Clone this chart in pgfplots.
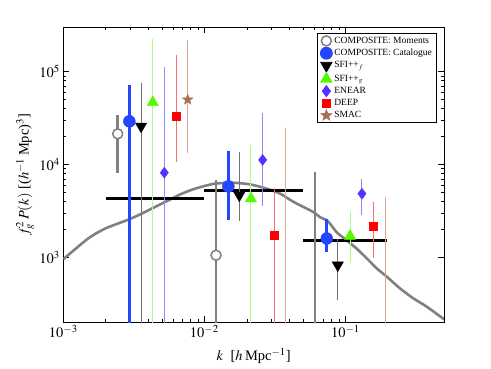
\documentclass[border=0pt]{standalone}
\usepackage{mathptmx}
\usepackage{fontspec}
\setmainfont{Liberation Serif}
\usepackage{pgfplots}
\pgfplotsset{compat=1.18}
\usepackage{pgfplotstable}

\definecolor{cgray}{RGB}{128,128,128}
\definecolor{cblue}{RGB}{35,70,255}
\definecolor{cgreen}{RGB}{85,250,0}
\definecolor{cgreenbar}{RGB}{170,255,130}
\definecolor{cviolet}{RGB}{85,51,255}
\definecolor{cvioletbar}{RGB}{150,135,255}
\definecolor{cred}{RGB}{255,0,0}
\definecolor{credbar}{RGB}{255,110,110}
\definecolor{cbrown}{RGB}{170,110,80}
\definecolor{cbrownbar}{RGB}{215,170,150}

% filled five-pointed star
\pgfdeclareplotmark{fstar}{%
  \pgfpathmoveto{\pgfpointpolar{90}{\pgfplotmarksize}}%
  \pgfpathlineto{\pgfpointpolar{126}{0.42\pgfplotmarksize}}%
  \pgfpathlineto{\pgfpointpolar{162}{\pgfplotmarksize}}%
  \pgfpathlineto{\pgfpointpolar{198}{0.42\pgfplotmarksize}}%
  \pgfpathlineto{\pgfpointpolar{234}{\pgfplotmarksize}}%
  \pgfpathlineto{\pgfpointpolar{270}{0.42\pgfplotmarksize}}%
  \pgfpathlineto{\pgfpointpolar{306}{\pgfplotmarksize}}%
  \pgfpathlineto{\pgfpointpolar{342}{0.42\pgfplotmarksize}}%
  \pgfpathlineto{\pgfpointpolar{18}{\pgfplotmarksize}}%
  \pgfpathlineto{\pgfpointpolar{54}{0.42\pgfplotmarksize}}%
  \pgfpathclose\pgfusepathqfillstroke}

% theory curve
\pgfplotstableread{
x y
1e-3 950
1.5e-3 1590
1.98e-3 2036
2.89e-3 2540
3.60e-3 2950
4.47e-3 3480
5.56e-3 4100
6.92e-3 4840
8.59e-3 5480
1.17e-2 6190
1.61e-2 6350
2.11e-2 6100
2.77e-2 5480
3.45e-2 4840
4.06e-2 4150
4.52e-2 3780
5.92e-2 3070
6.61e-2 2700
7.50e-2 2450
8.69e-2 1850
0.0968 1620
0.120 1240
0.142 968
0.167 756
0.197 614
0.244 460
0.303 360
0.378 292
0.509 210
}\tabtheory

% x, value, upper error, lower error
\pgfplotstableread{
x y ep em
2.43e-3 21400 11400 12800
1.21e-2 1050 5400 1049
6.09e-2 50 7890 49
}\tabmom
\pgfplotstableread{
x y ep em
2.94e-3 29200 38800 29199
1.48e-2 5800 7600 3150
7.38e-2 1590 870 400
}\tabcat
\pgfplotstableread{
x y ep em
3.56e-3 25800 46200 25799
1.77e-2 4650 8350 2040
8.83e-2 820 680 460
}\tabsfif
\pgfplotstableread{
x y ep em
4.31e-3 46800 168200 46799
2.14e-2 4280 11020 4279
0.108 1690 1260 784
}\tabsfig
\pgfplotstableread{
x y ep em
5.20e-3 8150 98850 8149
2.59e-2 11200 23000 7420
0.131 4840 1760 1810
}\tabenear
\pgfplotstableread{
x y ep em
6.30e-3 33000 112000 21700
3.13e-2 1720 3530 1719
0.158 2170 1610 1140
}\tabdeep
\pgfplotstableread{
x y ep em
7.62e-3 50000 157000 36200
3.79e-2 50 23750 49
0.191 50 4230 49
}\tabsmac

\pgfplotsset{
  ebars/.style 2 args={only marks,
    error bars/y dir=both, error bars/y explicit,
    error bars/error bar style={color=#2, line width=#1},
    error bars/error mark options={color=#2, line width=#1, mark size=2pt}},
}

\begin{document}
\begin{tikzpicture}
\path[use as bounding box] (-63.3pt,-46pt) rectangle (427.7pt,322pt);
\begin{axis}[
  at={(0pt,0pt)}, anchor=south west,
  scale only axis, width=380.7pt, height=294.5pt,
  xmode=log, ymode=log,
  xmin=1e-3, xmax=0.5, ymin=200, ymax=3e5,
  xtick={1e-3,1e-2,1e-1}, ytick={1e3,1e4,1e5},
  major tick length=6pt, minor tick length=3pt,
  tick style={black, line width=0.6pt},
  axis line style={line width=0.9pt},
  tick label style={font=\fontsize{14.5}{16}\selectfont},
  xlabel={$k$\ \ [$h$\,Mpc$^{-1}$]},
  ylabel={$f_g^2\,P(k)$\ [($h^{-1}$\,Mpc)$^3$]},
  every axis x label/.style={at={(axis description cs:0.5,-0.115)}, anchor=center,
    font=\fontsize{14.5}{16}\selectfont},
  every axis y label/.style={at={(axis description cs:-0.1,0.5)}, anchor=center, rotate=90,
    font=\fontsize{14.5}{16}\selectfont},
  legend style={at={(0.982,0.981)}, anchor=north east, draw=black, line width=0.8pt,
    font=\fontsize{9.5}{10}\selectfont, row sep=0.4pt, inner xsep=3pt, inner ysep=1.5pt},
  legend cell align=left,
]
\addplot[cgray, line width=2.6pt, smooth, tension=0.4, forget plot] table[x=x,y=y] \tabtheory;

\addplot[black, line width=2.6pt, forget plot] coordinates {(2.01e-3,4280) (1e-2,4280)};
\addplot[black, line width=2.6pt, forget plot] coordinates {(1e-2,5250) (5e-2,5250)};
\addplot[black, line width=2.6pt, forget plot] coordinates {(5e-2,1520) (0.198,1520)};

\addplot[ebars={2.4pt}{cgray}, mark=*, mark size=5pt, mark options={draw=cgray, fill=white, line width=1.5pt}]
  table[x=x, y=y, y error plus=ep, y error minus=em] \tabmom;
\addlegendentry{COMPOSITE: Moments}
\addplot[ebars={3pt}{cblue}, mark=*, mark size=6pt, mark options={draw=cblue, fill=cblue}]
  table[x=x, y=y, y error plus=ep, y error minus=em] \tabcat;
\addlegendentry{COMPOSITE: Catalogue}
\addplot[ebars={1pt}{black!55}, mark=triangle*, mark size=6.5pt, mark options={draw=black, fill=black, rotate=180}]
  table[x=x, y=y, y error plus=ep, y error minus=em] \tabsfif;
\addlegendentry{SFI++$_f$}
\addplot[ebars={1pt}{cgreenbar}, mark=triangle*, mark size=6.5pt, mark options={draw=cgreen, fill=cgreen}]
  table[x=x, y=y, y error plus=ep, y error minus=em] \tabsfig;
\addlegendentry{SFI++$_g$}
\addplot[ebars={1pt}{cvioletbar}, mark=diamond*, mark size=5.5pt, mark options={draw=cviolet, fill=cviolet}]
  table[x=x, y=y, y error plus=ep, y error minus=em] \tabenear;
\addlegendentry{ENEAR}
\addplot[ebars={1pt}{credbar}, mark=square*, mark size=4pt, mark options={draw=cred, fill=cred}]
  table[x=x, y=y, y error plus=ep, y error minus=em] \tabdeep;
\addlegendentry{DEEP}
\addplot[ebars={1pt}{cbrownbar}, mark=fstar, mark size=5.5pt, mark options={draw=cbrown, fill=cbrown}]
  table[x=x, y=y, y error plus=ep, y error minus=em] \tabsmac;
\addlegendentry{SMAC}
\end{axis}
\end{tikzpicture}
\end{document}
